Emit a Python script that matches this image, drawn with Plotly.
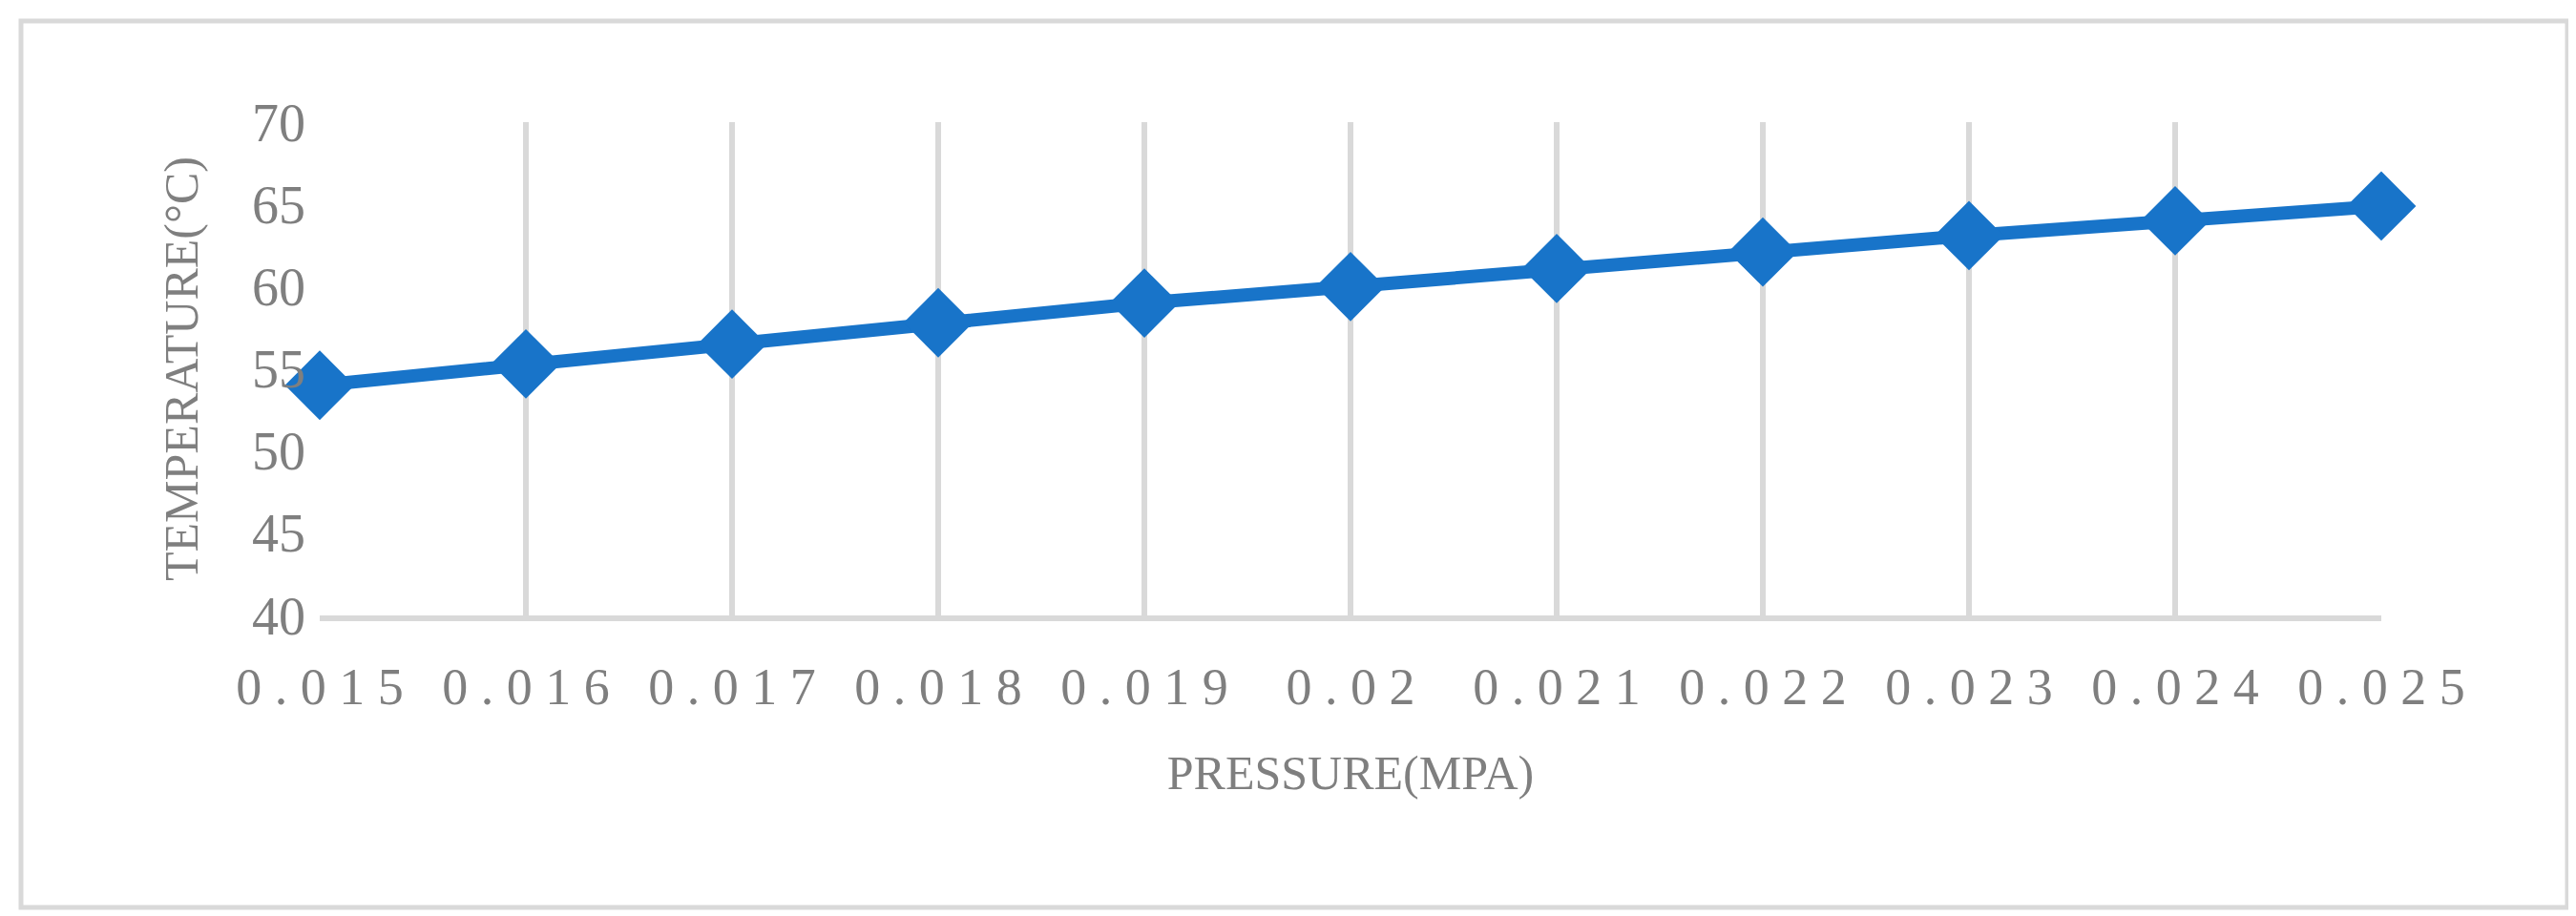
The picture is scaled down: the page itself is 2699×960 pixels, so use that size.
import plotly.graph_objects as go

pressure = [0.015, 0.016, 0.017, 0.018, 0.019, 0.020, 0.021, 0.022, 0.023, 0.024, 0.025]
temperature = [54.0, 55.3, 56.5, 57.8, 59.0, 60.0, 61.1, 62.1, 63.1, 64.0, 64.9]
x_labels = ["0.015", "0.016", "0.017", "0.018", "0.019", "0.02", "0.021", "0.022", "0.023", "0.024", "0.025"]

W, H = 2699, 960
L, R, T, B = 327, 212, 120, 323
pw, ph = W - L - R, H - T - B

def px(x):
    return (x - L) / pw

def py(y):
    return (H - B - y) / ph

gray = "#7f7f7f"
font = "Liberation Serif"

fig = go.Figure()
fig.add_trace(go.Scatter(
    x=pressure, y=temperature, mode="lines+markers",
    line=dict(color="#1874c9", width=14),
    marker=dict(symbol="diamond", size=56, color="#1874c9"),
    cliponaxis=False, showlegend=False))

fig.update_xaxes(range=[0.015, 0.025], tickvals=pressure,
                 ticktext=[" ".join(s) for s in x_labels],
                 showgrid=True, gridcolor="#d9d9d9", gridwidth=6,
                 showline=True, linecolor="#d9d9d9", linewidth=6,
                 zeroline=False, ticks="", ticklabelstandoff=22,
                 tickfont=dict(family=font, size=54, color=gray),
                 title=dict(text="PRESSURE(MPA)", standoff=45,
                            font=dict(family=font, size=50, color=gray)))
fig.update_yaxes(range=[40, 70], dtick=5, showgrid=False, zeroline=False,
                 showline=False, ticks="", ticklabelstandoff=14,
                 tickfont=dict(family=font, size=56, color=gray),
                 title=dict(text="TEMPERATURE(°C)", standoff=40,
                            font=dict(family=font, size=50, color=gray)))

fig.add_shape(type="rect", xref="paper", yref="paper",
              x0=px(14), x1=px(2682), y0=py(14), y1=py(943),
              line=dict(color="#d9d9d9", width=5), layer="below")

fig.update_layout(width=W, height=H, margin=dict(l=L, r=R, t=T, b=B),
                  plot_bgcolor="white", paper_bgcolor="white")
fig.write_html("out.html")
